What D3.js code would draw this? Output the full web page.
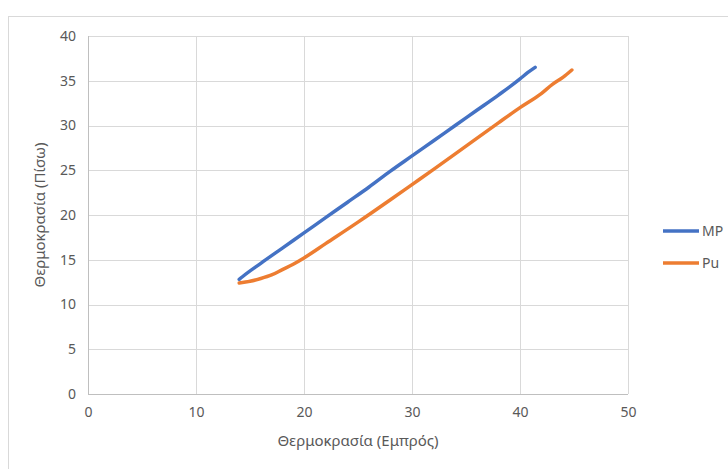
<!DOCTYPE html>
<html><head><meta charset="utf-8">
<script src="https://cdn.jsdelivr.net/npm/d3@7"></script>
<style>body{margin:0;background:#fff}svg{display:block}text{font-family:"Noto Sans",sans-serif;fill:#595959}</style>
</head><body><div id="c"></div>
<script>
const seriesNames = ["MP", "Pu"];
const colors = ["#4472C4", "#ED7D31"];
const xTicks = [0, 10, 20, 30, 40, 50];
const yTicks = [0, 5, 10, 15, 20, 25, 30, 35, 40];
const mpX = [14.0, 14.3, 16, 18, 20, 22, 24, 26, 28, 30, 32, 34, 36, 38, 40, 40.7, 41.4];
const mpY = [12.8, 13.1, 14.6, 16.3, 18.0, 19.7, 21.4, 23.1, 24.9, 26.6, 28.3, 30.0, 31.7, 33.4, 35.2, 35.9, 36.5];
const puX = [14.0, 15, 16, 17, 18, 19, 20, 22, 25, 28, 30, 32, 35, 38, 40, 42, 43, 44, 44.8];
const puY = [12.4, 12.6, 12.9, 13.3, 13.9, 14.5, 15.2, 16.8, 19.2, 21.7, 23.4, 25.1, 27.7, 30.3, 32.0, 33.6, 34.6, 35.4, 36.2];

const W = 728, H = 469;
const svg = d3.select("#c").append("svg").attr("width", W).attr("height", H);
svg.append("rect").attr("x", 8.5).attr("y", 16.5).attr("width", W).attr("height", H)
  .attr("fill", "#fff").attr("stroke", "#d9d9d9");

const x = d3.scaleLinear().domain([0, 50]).range([88, 628]);
const y = d3.scaleLinear().domain([0, 40]).range([394, 36]);

const g = svg.append("g");
g.selectAll(".hg").data(yTicks).enter().append("line")
  .attr("x1", x(0)).attr("x2", x(50)).attr("y1", d => Math.round(y(d)) + 0.5).attr("y2", d => Math.round(y(d)) + 0.5)
  .attr("stroke", d => d === 0 ? "#bfbfbf" : "#d9d9d9").attr("stroke-width", 1);
g.selectAll(".vg").data(xTicks).enter().append("line")
  .attr("y1", y(0)).attr("y2", y(40)).attr("x1", d => Math.round(x(d)) + 0.5).attr("x2", d => Math.round(x(d)) + 0.5)
  .attr("stroke", d => d === 0 ? "#bfbfbf" : "#d9d9d9").attr("stroke-width", 1);

const xAxis = d3.axisBottom(x).tickValues(xTicks).tickSize(0).tickPadding(13);
const xa = svg.append("g").attr("transform", `translate(0,${y(0)})`).call(xAxis);
xa.select(".domain").remove();
xa.selectAll("text").attr("font-size", 14).style("fill", "#595959").attr("font-family", "Noto Sans");

const yAxis = d3.axisLeft(y).tickValues(yTicks).tickSize(0).tickPadding(12);
const ya = svg.append("g").attr("transform", `translate(${x(0)},0)`).call(yAxis);
ya.select(".domain").remove();
ya.selectAll("text").attr("font-size", 14).style("fill", "#595959").attr("font-family", "Noto Sans");

const line = d3.line().x(d => x(d[0])).y(d => y(d[1])).curve(d3.curveMonotoneX);
const data = [d3.zip(mpX, mpY), d3.zip(puX, puY)];
svg.selectAll(".s").data(data).enter().append("path")
  .attr("d", line).attr("fill", "none").attr("stroke", (d, i) => colors[i])
  .attr("stroke-width", 3.5).attr("stroke-linecap", "round");

svg.append("text").attr("x", 358).attr("y", 446).attr("text-anchor", "middle").attr("font-size", 15)
  .text("Θερμοκρασία (Εμπρός)");
svg.append("text").attr("transform", "translate(45,215) rotate(-90)").attr("text-anchor", "middle").attr("font-size", 15)
  .text("Θερμοκρασία (Πίσω)");

const lg = svg.selectAll(".lg").data(seriesNames).enter().append("g")
  .attr("transform", (d, i) => `translate(663,${231 + i * 32})`);
lg.append("line").attr("x1", 0).attr("x2", 36).attr("stroke", (d, i) => colors[i]).attr("stroke-width", 3.5);
lg.append("text").attr("x", 39).attr("y", 5).attr("font-size", 14).text(d => d);
</script></body></html>
